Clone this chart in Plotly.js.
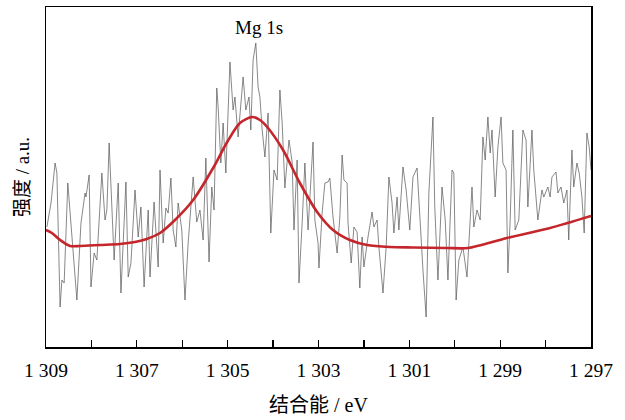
<!DOCTYPE html>
<html>
<head>
<meta charset="utf-8">
<script src="https://cdn.plot.ly/plotly-3.0.1.min.js"></script>
<style>html,body{margin:0;padding:0;background:#fff;}#chart{width:625px;height:420px;}</style>
</head>
<body>
<div id="chart"></div>
<script>
// Raw spectrum (binding energy, intensity in arbitrary units)
const energy = [
1308.98,1308.89,1308.80,1308.76,1308.69,1308.65,1308.60,1308.52,1308.32,1308.23,
1308.14,1308.12,1308.05,1308.01,1307.94,1307.88,1307.77,1307.70,1307.66,1307.61,
1307.50,1307.41,1307.35,1307.24,1307.19,1307.13,1307.04,1306.97,1306.91,1306.84,
1306.75,1306.71,1306.62,1306.53,1306.49,1306.42,1306.36,1306.31,1306.25,1306.20,
1306.14,1306.09,1306.01,1305.94,1305.87,1305.76,1305.68,1305.61,1305.54,1305.48,
1305.41,1305.35,1305.30,1305.24,1305.21,1305.15,1305.10,1305.04,1304.95,1304.88,
1304.84,1304.77,1304.66,1304.60,1304.53,1304.49,1304.44,1304.38,1304.33,1304.29,
1304.24,1304.18,1304.11,1304.05,1303.98,1303.91,1303.85,1303.80,1303.74,1303.65,
1303.58,1303.54,1303.47,1303.43,1303.36,1303.30,1303.23,1303.12,1303.08,1303.01,
1302.99,1302.92,1302.86,1302.79,1302.75,1302.68,1302.59,1302.53,1302.48,1302.44,
1302.37,1302.35,1302.28,1302.22,1302.15,1302.09,1302.04,1302.00,1301.91,1301.82,
1301.78,1301.71,1301.67,1301.58,1301.51,1301.45,1301.38,1301.34,1301.27,1301.23,
1301.14,1301.07,1300.99,1300.92,1300.83,1300.77,1300.70,1300.63,1300.57,1300.48,
1300.44,1300.37,1300.28,1300.21,1300.15,1300.06,1300.02,1299.97,1299.91,1299.82,
1299.73,1299.62,1299.58,1299.51,1299.44,1299.38,1299.33,1299.27,1299.22,1299.18,
1299.11,1299.05,1298.98,1298.94,1298.87,1298.83,1298.78,1298.72,1298.67,1298.59,
1298.50,1298.43,1298.39,1298.30,1298.26,1298.17,1298.08,1298.04,1297.95,1297.90,
1297.86,1297.77,1297.73,1297.66,1297.60,1297.53,1297.49,1297.42,1297.38,1297.31,
1297.26,1297.20,1297.15,1297.09,1297.04,1297.00
];
const intensity = [
120,144,184,174,40,67,64,164,47,124,
154,150,172,60,94,87,174,127,137,204,
87,164,54,165,70,84,157,110,140,60,
137,70,145,80,177,104,139,134,169,117,
100,144,117,47,104,170,125,137,107,189,
85,160,137,259,240,184,224,174,285,237,
250,210,270,237,250,217,287,304,260,250,
217,190,234,114,177,167,257,224,159,207,
185,117,187,64,124,184,117,205,127,104,
79,134,164,165,169,130,94,130,192,167,
164,124,84,120,115,59,110,80,110,135,
120,127,100,54,100,170,144,114,150,117,
180,157,117,170,179,130,77,30,154,230,
140,67,160,127,67,177,174,47,87,100,
70,160,120,137,127,210,187,230,194,217,
150,200,230,184,177,74,127,217,117,127,
217,207,140,217,177,127,157,150,160,150,
170,175,154,160,144,157,107,197,160,184,
174,150,114,214,200,177
];
// Fitted envelope
const fitEnergy = [1309.00,1308.87,1308.69,1308.47,1308.25,1307.81,1307.37,1307.04,1306.78,1306.49,
1306.16,1305.76,1305.32,1305.01,1304.73,1304.46,1304.29,1304.13,1303.78,1303.41,
1303.03,1302.68,1302.31,1301.93,1301.43,1300.92,1300.17,1299.71,1298.85,1297.90,1297.00];
const fitIntensity = [117,114,107,101,101,102,103,105,108,114,
127,147,179,205,224,230,227,220,197,164,
135,117,107,102,100,99.5,99,99,109,119,131];
const tickValues = [1309,1308,1307,1306,1305,1304,1303,1302,1301,1300,1299,1298,1297];
const tickLabels = ['1 309','','1 307','','1 305','','1 303','','1 301','','1 299','','1 297'];
const peakLabel = 'Mg 1s';
const peakPos = [1304.3, 320];

const serif = 'Liberation Serif, Noto Sans CJK SC, serif';
const traces = [
  {x: energy, y: intensity, type: 'scatter', mode: 'lines',
   line: {color: '#555555', width: 0.7}, hoverinfo: 'skip'},
  {x: fitEnergy, y: fitIntensity, type: 'scatter', mode: 'lines',
   line: {color: '#c4262b', width: 2.6, shape: 'spline', smoothing: 0.8}, hoverinfo: 'skip'}
];
const layout = {
  width: 625, height: 420,
  margin: {l: 46, r: 34, t: 7, b: 73},
  paper_bgcolor: '#fff', plot_bgcolor: '#fff',
  showlegend: false,
  font: {family: serif, color: '#000', size: 19},
  xaxis: {
    range: [1309, 1297], autorange: false,
    tickmode: 'array', tickvals: tickValues, ticktext: tickLabels,
    ticks: 'inside', ticklen: 7, tickwidth: 1.2, tickcolor: '#000',
    ticklabelstandoff: 5,
    showline: true, linecolor: '#000', linewidth: 1.5, mirror: true,
    showgrid: false, zeroline: false,
    tickfont: {family: serif, size: 19.5, color: '#000'},
    title: {text: '结合能 / eV', font: {family: serif, size: 20, color: '#000'}, standoff: 18},
    automargin: false
  },
  yaxis: {
    range: [0, 340], autorange: false,
    showticklabels: false, ticks: '',
    showline: true, linecolor: '#000', linewidth: 1.5, mirror: true,
    showgrid: false, zeroline: false,
    title: {text: '强度 / a.u.', font: {family: serif, size: 19, color: '#000'}, standoff: 10},
    automargin: false
  },
  annotations: [{
    x: peakPos[0], y: peakPos[1], xref: 'x', yref: 'y', text: peakLabel,
    showarrow: false, font: {family: serif, size: 19, color: '#000'}
  }]
};
Plotly.newPlot('chart', traces, layout, {staticPlot: true, displayModeBar: false});
</script>
</body>
</html>
